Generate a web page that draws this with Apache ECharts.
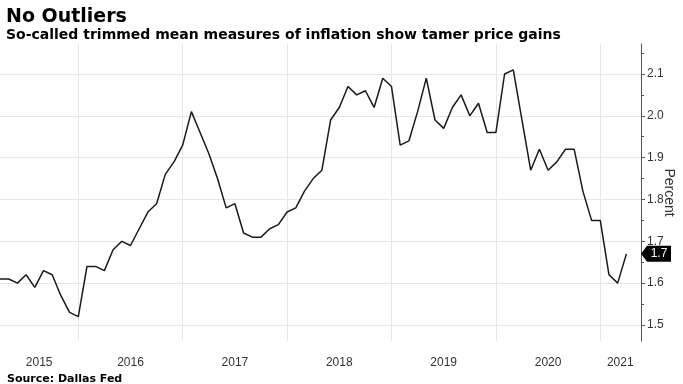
<!DOCTYPE html>
<html>
<head>
<meta charset="utf-8">
<script src="https://cdn.jsdelivr.net/npm/echarts@6/dist/echarts.min.js"></script>
<style>
html,body{margin:0;padding:0;background:#fff;}
#chart{width:683px;height:384px;}
</style>
</head>
<body>
<div id="chart"></div>
<script>
// Months covered (month-end observations), March 2015 .. March 2021
const firstMonth = '2015-03';
const lastMonth = '2021-03';
// 12-month trimmed mean PCE inflation, percent
const values = [
  1.61, 1.61, 1.60, 1.62, 1.59, 1.63, 1.62, 1.57, 1.53, 1.52,        // 2015 Mar-Dec
  1.64, 1.64, 1.63, 1.68, 1.70, 1.69, 1.73, 1.77, 1.79, 1.86, 1.89, 1.93, // 2016
  2.01, 1.96, 1.91, 1.85, 1.78, 1.79, 1.72, 1.71, 1.71, 1.73, 1.74, 1.77, // 2017
  1.78, 1.82, 1.85, 1.87, 1.99, 2.02, 2.07, 2.05, 2.06, 2.02, 2.09, 2.07, // 2018
  1.93, 1.94, 2.01, 2.09, 1.99, 1.97, 2.02, 2.05, 2.00, 2.03, 1.96, 1.96, // 2019
  2.10, 2.11, 1.99, 1.87, 1.92, 1.87, 1.89, 1.92, 1.92, 1.82, 1.75, 1.75, // 2020
  1.62, 1.60, 1.67                                                   // 2021 Jan-Mar
];
const yearLabels = ['2015', '2016', '2017', '2018', '2019', '2020', '2021'];
const yTickValues = [1.5, 1.6, 1.7, 1.8, 1.9, 2.0, 2.1];

// month list built from the range
const months = [];
(function () {
  let [y, m] = firstMonth.split('-').map(Number);
  const [ly, lm] = lastMonth.split('-').map(Number);
  while (y < ly || (y === ly && m <= lm)) {
    months.push(y + '-' + String(m).padStart(2, '0'));
    m++; if (m > 12) { m = 1; y++; }
  }
})();
// position in months since end of 2014 (month-end observation)
function monthPos(s) { const [y, m] = s.split('-').map(Number); return (y - 2015) * 12 + m; }
const seriesData = months.map((mo, i) => [monthPos(mo), values[i]]);

// year boundaries (end of December ~ 1 January) and year label centres
const yearBoundaries = [12, 24, 36, 48, 60, 72];
const yearLabelPos = [7.5, 18, 30, 42, 54, 66, 74.3];

const xMin = monthPos(firstMonth);
const xMax = 76.68;
const yMin = 1.4617, yMax = 2.1717;
const lastVal = values[values.length - 1];

const chart = echarts.init(document.getElementById('chart'), null, {renderer: 'canvas'});
chart.setOption({
  animation: false,
  backgroundColor: '#ffffff',
  title: [
    {text: 'No Outliers', left: 1, top: 3,
     textStyle: {fontFamily: 'DejaVu Sans', fontWeight: 'bold', fontSize: 19, color: '#000'}},
    {text: 'So-called trimmed mean measures of inflation show tamer price gains', left: 1, top: 23,
     textStyle: {fontFamily: 'DejaVu Sans', fontWeight: 'bold', fontSize: 14, color: '#000'}},
    {text: 'Source: Dallas Fed', left: 2, top: 369,
     textStyle: {fontFamily: 'DejaVu Sans', fontWeight: 'bold', fontSize: 11, color: '#000'}}
  ],
  grid: {left: 0, right: 42, top: 44, bottom: 43, containLabel: false, outerBoundsMode: 'none'},
  xAxis: {
    type: 'value', min: xMin, max: xMax,
    axisLine: {show: false},
    axisTick: {show: false, customValues: yearBoundaries},
    splitLine: {show: true, lineStyle: {color: '#e6e6e6', width: 1}},
    axisLabel: {
      customValues: yearLabelPos, margin: 16,
      fontFamily: 'Liberation Sans', fontSize: 12, color: '#333',
      formatter: v => yearLabels[yearLabelPos.indexOf(v)]
    }
  },
  yAxis: {
    type: 'value', position: 'right', min: yMin, max: yMax,
    name: 'Percent', nameLocation: 'middle', nameRotate: -90, nameGap: 21,
    nameMoveOverlap: false,
    nameTextStyle: {fontFamily: 'Liberation Sans', fontSize: 14, color: '#333'},
    axisLine: {show: true, lineStyle: {color: '#555', width: 1}},
    axisTick: {show: true, length: 4, customValues: yTickValues, lineStyle: {color: '#555'}},
    minorTick: {show: true, splitNumber: 2, length: 3, lineStyle: {color: '#555'}},
    splitLine: {show: true, lineStyle: {color: '#e6e6e6', width: 1}},
    axisLabel: {
      customValues: yTickValues, margin: 6,
      fontFamily: 'Liberation Sans', fontSize: 12, color: '#333',
      formatter: v => v.toFixed(1)
    }
  },
  series: [{
    type: 'line',
    data: seriesData,
    showSymbol: false,
    symbol: 'none',
    lineStyle: {color: '#1a1a1a', width: 1.5},
    clip: false,
    markPoint: {
      symbol: 'path://M0,8 L6,0 L30,0 L30,16 L6,16 Z',
      symbolSize: [30, 16],
      symbolKeepAspect: false,
      symbolOffset: ['50%', 0],
      itemStyle: {color: '#000'},
      label: {show: true, color: '#fff', fontFamily: 'Liberation Sans', fontSize: 12,
              offset: [3, 0], formatter: () => lastVal.toFixed(1)},
      data: [{coord: [xMax, lastVal], value: lastVal}]
    }
  }]
});
</script>
</body>
</html>
